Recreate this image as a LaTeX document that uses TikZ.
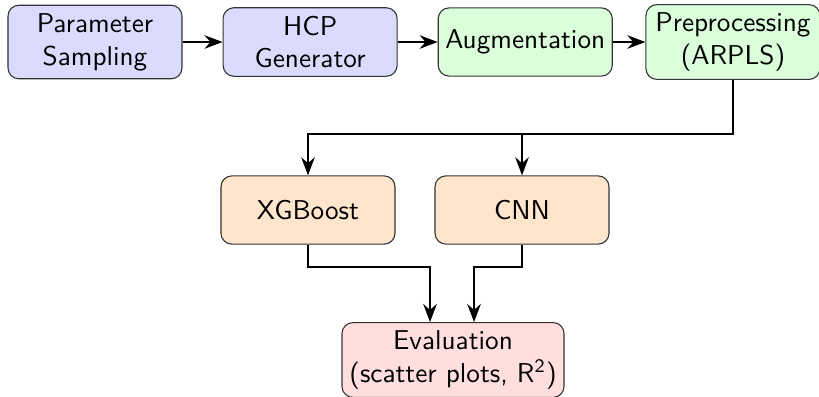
\documentclass[tikz,border=0pt]{standalone}
\usetikzlibrary{positioning,arrows.meta}

\begin{document}
\begin{tikzpicture}[font=\sffamily,
		box/.style={draw=black!80, rounded corners=4pt, align=center, minimum width=2.245cm, minimum height=0.88cm, inner xsep=2.5pt, inner ysep=3pt},
		gen/.style={box, fill=blue!14},
		prep/.style={box, fill=green!14},
		model/.style={box, fill=orange!20},
		eval/.style={box, fill=red!13, minimum width=2.864cm},
		arr/.style={-Stealth, thick}]
		\useasboundingbox (0,0) rectangle (10.565,-5.121);
		% top row
		\node[gen] (sampling) at (1.2255,-0.542) {Parameter \\ Sampling};
		\node[gen, right=0.516cm of sampling] (hcp) {HCP \\ Generator};
		\node[prep, right=0.516cm of hcp] (aug) {Augmentation};
		\node[prep] (arpls) at (9.455,-0.542) {Preprocessing \\ (ARPLS)};
		% models
		\node[model] (xgb) at (3.973,-2.709) {XGBoost};
		\node[model] (cnn) at (6.734,-2.709) {CNN};
		\node[eval] (evaluation) at (5.844,-4.644) {Evaluation \\ (scatter plots, R\textsuperscript{2})};
		% helper coordinates
		\coordinate (split) at (0,-1.729);
		\coordinate (merge) at (0,-3.444);
		\coordinate (inL) at ([xshift=-0.297cm]evaluation.north);
		\coordinate (inR) at ([xshift=0.271cm]evaluation.north);
		% connectors
		\draw[arr] (sampling) -- (hcp);
		\draw[arr] (hcp) -- (aug);
		\draw[arr] (aug) -- (arpls);
		\draw[arr] (arpls.south) -- (arpls.south |- split) -| (xgb.north);
		\draw[arr] (cnn.north |- split) -- (cnn.north);
		\draw[arr] (xgb.south) |- (inL |- merge) -- (inL);
		\draw[arr] (cnn.south) |- (inR |- merge) -- (inR);
	\end{tikzpicture}
\end{document}
